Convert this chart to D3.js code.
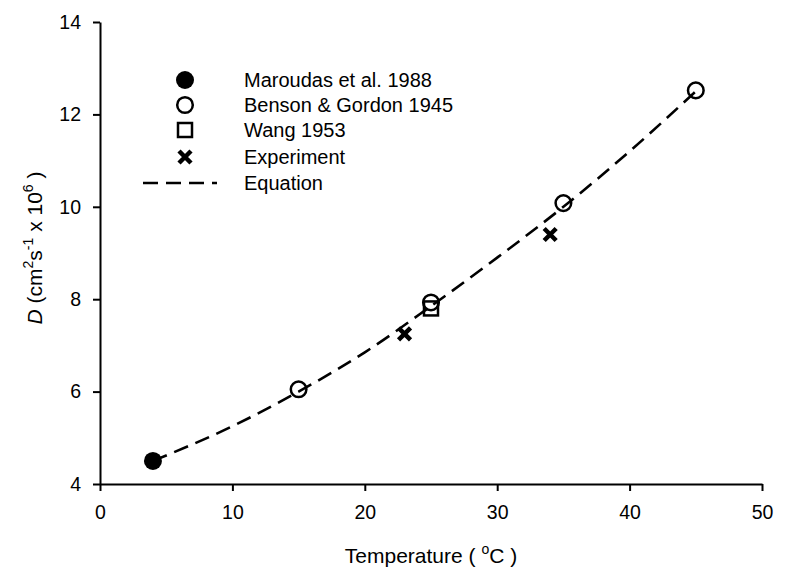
<!DOCTYPE html>
<html><head><meta charset="utf-8">
<script src="https://cdn.jsdelivr.net/npm/d3@7"></script>
<style>body{margin:0;background:#fff}svg{display:block}text{font-family:"Liberation Sans",Arial,sans-serif}</style>
</head><body>
<script>
// Data
const maroudasT = [4], maroudasD = [4.5];
const bensonT = [15, 25, 35, 45], bensonD = [6.05, 7.93, 10.08, 12.52];
const wangT = [25], wangD = [7.8];
const experimentT = [23, 34], experimentD = [7.25, 9.4];
const equationT = [4, 10, 15, 20, 25, 30, 35, 40, 45];
const equationD = [4.5, 5.25, 6.0, 6.85, 7.85, 8.9, 10.0, 11.2, 12.5];
const xTicks = [0, 10, 20, 30, 40, 50];
const yTicks = [4, 6, 8, 10, 12, 14];
const legendLabels = ["Maroudas et al. 1988", "Benson & Gordon 1945", "Wang 1953", "Experiment", "Equation"];

const W = 786, H = 569;
const svg = d3.select("body").append("svg").attr("width", W).attr("height", H);
const x = d3.scaleLinear().domain([0, 50]).range([100, 762]);
const y = d3.scaleLinear().domain([4, 14]).range([484, 22]);

const ax = svg.append("g").attr("transform", "translate(0,484)")
  .call(d3.axisBottom(x).tickValues(xTicks).tickSize(7).tickSizeOuter(0).tickPadding(14));
const ay = svg.append("g").attr("transform", "translate(100,0)")
  .call(d3.axisLeft(y).tickValues(yTicks).tickSize(7).tickSizeOuter(0).tickPadding(12));
[ax, ay].forEach(g => {
  g.selectAll("path,line").attr("stroke", "#000").attr("stroke-width", 2);
  g.selectAll("text").attr("font-size", 19.5).attr("fill", "#000");
});

// Equation curve
const line = d3.line().x((d, i) => x(equationT[i])).y(d => y(d)).curve(d3.curveMonotoneX);
svg.append("path").attr("d", line(equationD)).attr("fill", "none")
  .attr("stroke", "#000").attr("stroke-width", 2.6).attr("stroke-dasharray", "15,8");

function circle(g, cx, cy, filled) {
  g.append("circle").attr("cx", cx).attr("cy", cy).attr("r", filled ? 9 : 7.8)
    .attr("fill", filled ? "#000" : "none").attr("stroke", "#000").attr("stroke-width", filled ? 0 : 2.5);
}
function square(g, cx, cy) {
  g.append("rect").attr("x", cx - 7).attr("y", cy - 7).attr("width", 14).attr("height", 14)
    .attr("fill", "none").attr("stroke", "#000").attr("stroke-width", 2.5);
}
function cross(g, cx, cy) {
  const s = 6;
  g.append("path").attr("d", `M${cx - s},${cy - s}L${cx + s},${cy + s}M${cx - s},${cy + s}L${cx + s},${cy - s}`)
    .attr("stroke", "#000").attr("stroke-width", 4.5).attr("fill", "none");
}
const pts = svg.append("g");
maroudasT.forEach((t, i) => circle(pts, x(t), y(maroudasD[i]), true));
bensonT.forEach((t, i) => circle(pts, x(t), y(bensonD[i]), false));
wangT.forEach((t, i) => square(pts, x(t), y(wangD[i])));
experimentT.forEach((t, i) => cross(pts, x(t), y(experimentD[i])));

// Legend
const lg = svg.append("g");
const rows = [80, 105, 130, 157, 183];
circle(lg, 185, rows[0], true);
circle(lg, 185, rows[1], false);
square(lg, 185, rows[2]);
cross(lg, 185, rows[3]);
lg.append("line").attr("x1", 143).attr("x2", 217).attr("y1", rows[4]).attr("y2", rows[4])
  .attr("stroke", "#000").attr("stroke-width", 2.6).attr("stroke-dasharray", "15,8");
legendLabels.forEach((l, i) => lg.append("text").attr("x", 244).attr("y", rows[i]).attr("dy", "0.35em")
  .attr("font-size", 20).text(l));

// Axis titles
const xt = svg.append("text").attr("x", 431).attr("y", 563).attr("text-anchor", "middle").attr("font-size", 21);
xt.append("tspan").text("Temperature ( ");
xt.append("tspan").attr("font-size", 14).attr("dy", -9).text("o");
xt.append("tspan").attr("dy", 9).text("C )");

const yt = svg.append("text").attr("transform", "translate(42,248) rotate(-90)").attr("text-anchor", "middle").attr("font-size", 21);
yt.append("tspan").attr("font-style", "italic").text("D");
yt.append("tspan").text(" (cm");
yt.append("tspan").attr("font-size", 14).attr("dy", -9).text("2");
yt.append("tspan").attr("dy", 9).text("s");
yt.append("tspan").attr("font-size", 14).attr("dy", -9).text("-1");
yt.append("tspan").attr("dy", 9).text(" x 10");
yt.append("tspan").attr("font-size", 14).attr("dy", -9).text("6");
yt.append("tspan").attr("dy", 9).text(" )");
</script>
</body></html>
